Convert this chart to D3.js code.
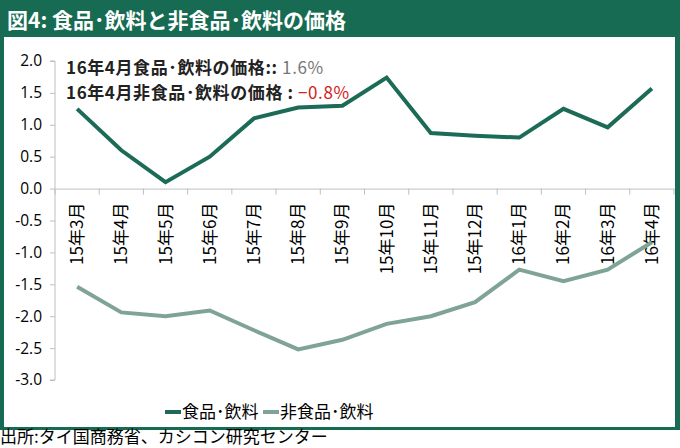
<!DOCTYPE html>
<html>
<head>
<meta charset="utf-8">
<script src="https://cdn.jsdelivr.net/npm/d3@7"></script>
<style>
  body { margin: 0; background: #fff; }
  svg { display: block; }
</style>
</head>
<body>
<script>
// Data
var months = ["15年3月", "15年4月", "15年5月", "15年6月", "15年7月", "15年8月", "15年9月",
  "15年10月", "15年11月", "15年12月", "16年1月", "16年2月", "16年3月", "16年4月"];
var food = [1.25, 0.6, 0.1, 0.5, 1.1, 1.27, 1.3, 1.74, 0.87, 0.83, 0.8, 1.25, 0.96, 1.57];
var nonFood = [-1.54, -1.94, -2.0, -1.91, -2.22, -2.52, -2.37, -2.12, -2.0, -1.78, -1.27, -1.45, -1.27, -0.84];
var yTicks = [2.0, 1.5, 1.0, 0.5, 0.0, -0.5, -1.0, -1.5, -2.0, -2.5, -3.0];

var svgWidth = 680, svgHeight = 448;
var frameColor = "#166b52";
var foodColor = "#1b6b56";
var nonFoodColor = "#7fa495";
var jp = "'Noto Sans CJK JP', 'Noto Sans', sans-serif";

var svg = d3.select("body").append("svg")
  .attr("width", svgWidth)
  .attr("height", svgHeight);

// frame + title bar
svg.append("rect").attr("x", 0).attr("y", 0).attr("width", 680).attr("height", 430)
  .attr("fill", frameColor);
svg.append("rect").attr("x", 4).attr("y", 37).attr("width", 671).attr("height", 390)
  .attr("fill", "#fff");

svg.append("text")
  .attr("x", 7).attr("y", 28)
  .style("font-family", jp).style("font-size", "21px").style("font-weight", "bold")
  .style("fill", "#fff")
  .text("図4: 食品･飲料と非食品･飲料の価格");

var x = d3.scaleBand().domain(months).range([55, 674]);
var y = d3.scaleLinear().domain([-3, 2]).range([380, 61]);

var chart = svg.append("g");

// y axis
var leftAxis = d3.axisLeft(y).tickValues(yTicks).tickFormat(d3.format(".1f")).tickSize(5).tickPadding(8);
var gy = chart.append("g").attr("transform", "translate(55,0)").call(leftAxis);
gy.select(".domain").attr("stroke", "#bfbfbf").attr("d", "M-5," + y(2) + "H0V" + y(-3) + "H-5");
gy.selectAll(".tick line").attr("stroke", "#bfbfbf");
gy.selectAll(".tick text")
  .style("font-family", "'Open Sans', 'Liberation Sans', sans-serif")
  .style("font-size", "15.5px").style("fill", "#000")
  .text(function (d) { return d3.format(".1f")(d).replace("−", "-"); });

// x axis at zero
var bottomAxis = d3.axisBottom(x).tickSize(0).tickFormat("");
var gx = chart.append("g").attr("transform", "translate(0," + y(0) + ")").call(bottomAxis);
gx.select(".domain").attr("stroke", "#bfbfbf");
gx.selectAll(".bt").data(months.concat(["end"])).enter().append("line")
  .attr("x1", function (d, i) { return 55 + i * x.step(); })
  .attr("x2", function (d, i) { return 55 + i * x.step(); })
  .attr("y1", 0).attr("y2", 6)
  .attr("stroke", "#bfbfbf");

// x labels rotated
chart.selectAll(".xlab").data(months).enter().append("text")
  .attr("transform", function (d) {
    return "translate(" + (x(d) + x.bandwidth() / 2 + 6) + "," + (y(0) + 14) + ") rotate(-90)";
  })
  .attr("text-anchor", "end")
  .style("font-family", jp).style("font-size", "17px").style("fill", "#000")
  .text(function (d) { return d; });

// lines
var line = d3.line()
  .x(function (d, i) { return x(months[i]) + x.bandwidth() / 2; })
  .y(function (d) { return y(d); });

chart.append("path").datum(nonFood)
  .attr("d", line).attr("fill", "none")
  .attr("stroke", nonFoodColor).attr("stroke-width", 4);
chart.append("path").datum(food)
  .attr("d", line).attr("fill", "none")
  .attr("stroke", foodColor).attr("stroke-width", 4);

// annotation
var ann1 = svg.append("text").attr("x", 66).attr("y", 74)
  .style("font-family", jp).style("font-size", "17px").style("font-weight", "bold")
  .style("letter-spacing", "0.6px");
ann1.append("tspan").style("fill", "#222").text("16年4月食品･飲料の価格:: ");
ann1.append("tspan").style("fill", "#777").style("font-weight", "normal").text("1.6%");

var ann2 = svg.append("text").attr("x", 66).attr("y", 99)
  .style("font-family", jp).style("font-size", "17px").style("font-weight", "bold")
  .style("letter-spacing", "0.6px");
ann2.append("tspan").style("fill", "#222").text("16年4月非食品･飲料の価格 : ");
ann2.append("tspan").style("fill", "#d42020").style("font-weight", "normal").text("−0.8%");

// legend
var legend = [
  { name: "食品･飲料", color: foodColor, x: 165 },
  { name: "非食品･飲料", color: nonFoodColor, x: 263 }
];
var lg = svg.selectAll(".lg").data(legend).enter().append("g")
  .attr("transform", function (d) { return "translate(" + d.x + ",412)"; });
lg.append("line").attr("x1", 0).attr("x2", 16).attr("y1", 0).attr("y2", 0)
  .attr("stroke", function (d) { return d.color; }).attr("stroke-width", 4);
lg.append("text").attr("x", 17).attr("y", 6)
  .style("font-family", jp).style("font-size", "17px").style("fill", "#000")
  .text(function (d) { return d.name; });

// source
svg.append("text").attr("x", 0).attr("y", 443)
  .style("font-family", jp).style("font-size", "17px").style("fill", "#000")
  .text("出所:タイ国商務省、カシコン研究センター");
</script>
</body>
</html>
